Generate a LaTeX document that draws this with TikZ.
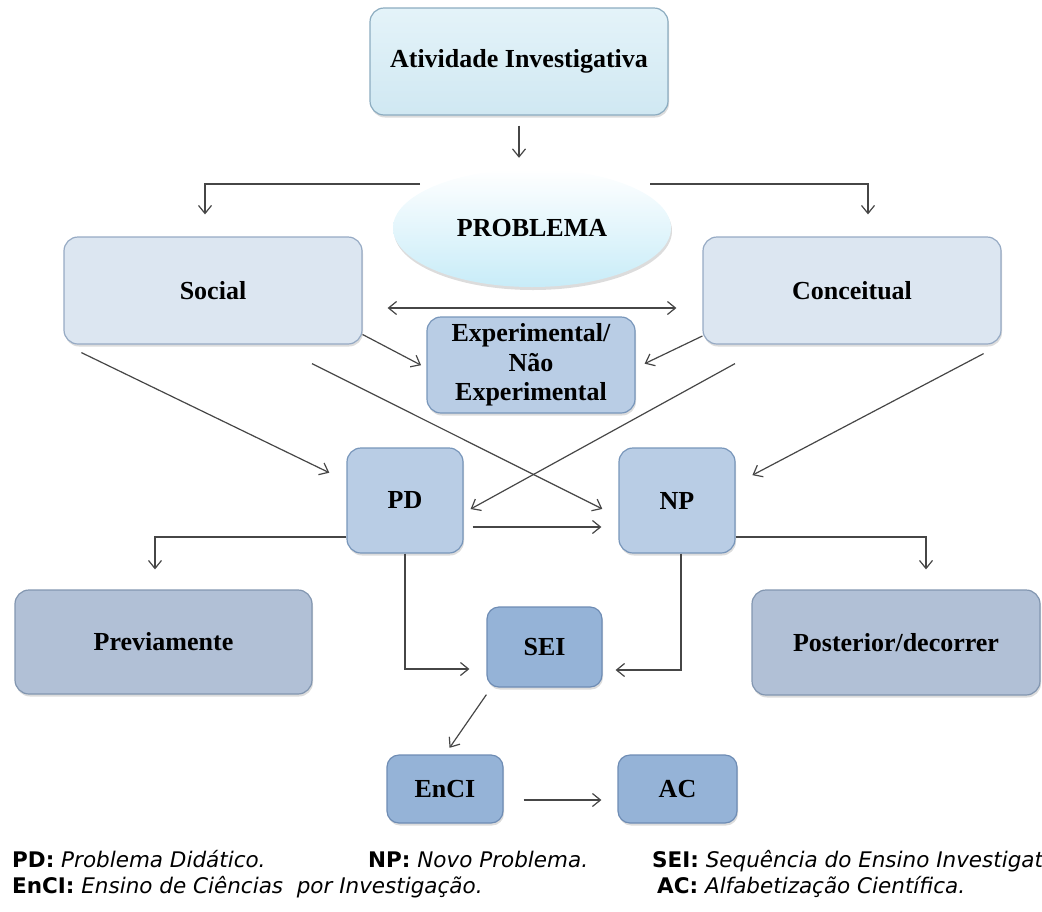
\documentclass[tikz,border=0pt]{standalone}
\usepackage{fontspec}
\setmainfont{Liberation Serif}
\newfontfamily\legendfont{DejaVu Sans}[BoldFont={DejaVu Sans Bold},ItalicFont={DejaVu Sans Oblique},BoldItalicFont={DejaVu Sans Bold Oblique}]
\usetikzlibrary{arrows.meta,calc,shapes.geometric,shadows}

\definecolor{atvtop}{RGB}{228,243,249}
\definecolor{atvbot}{RGB}{208,232,242}
\definecolor{atvline}{RGB}{140,172,192}
\definecolor{probbot}{RGB}{200,236,248}
\definecolor{socfill}{RGB}{220,230,241}
\definecolor{socline}{RGB}{150,170,196}
\definecolor{midfill}{RGB}{185,205,229}
\definecolor{midline}{RGB}{120,150,186}
\definecolor{darkfill}{RGB}{149,179,215}
\definecolor{darkline}{RGB}{110,140,180}
\definecolor{grayfill}{RGB}{177,192,214}
\definecolor{grayline}{RGB}{130,150,176}
\definecolor{conn}{RGB}{70,70,70}

\begin{document}
\begin{tikzpicture}[x=1pt,y=-1pt,
  boxbase/.style={rounded corners=14pt, line width=1.2pt, inner sep=0pt, align=center,
    font=\fontsize{26}{29.5}\selectfont\bfseries,
    drop shadow={shadow xshift=1pt, shadow yshift=-2.5pt, opacity=0.3, fill=black!45}},
  atvbox/.style={boxbase, draw=atvline, top color=atvtop, bottom color=atvbot},
  socbox/.style={boxbase, draw=socline, fill=socfill},
  midbox/.style={boxbase, draw=midline, fill=midfill},
  darkbox/.style={boxbase, draw=darkline, fill=darkfill},
  graybox/.style={boxbase, draw=grayline, fill=grayfill},
  arr/.style={draw=conn, line width=1.2pt, -{Straight Barb[length=8pt,width=13pt]}},
  arrboth/.style={draw=conn, line width=1.2pt, {Straight Barb[length=8pt,width=13pt]}-{Straight Barb[length=8pt,width=13pt]}},
  legend/.style={anchor=base west, inner sep=0pt, font=\legendfont\fontsize{21.5}{25}\selectfont}
]
\useasboundingbox (0,0) rectangle (1042,911);
\clip (0,0) rectangle (1042,911);

% boxes
\node[atvbox, minimum width=298pt, minimum height=107pt] (atv) at (519,61.5) {Atividade Investigativa};
\node[ellipse, draw=none, top color=white, bottom color=probbot, inner sep=0pt,
      minimum width=278pt, minimum height=118pt,
      font=\fontsize{26}{29.5}\selectfont\bfseries,
      drop shadow={shadow xshift=1pt, shadow yshift=-3pt, opacity=0.3, fill=black!45}]
      (prob) at (532,228) {PROBLEMA};
\node[socbox, minimum width=298pt, minimum height=107pt] (social) at (213,290.5) {Social};
\node[socbox, minimum width=298pt, minimum height=107pt] (conc) at (852,290.5) {Conceitual};
\node[midbox, minimum width=208pt, minimum height=96pt] (exp) at (531,365) {Experimental/\\Não\\Experimental};
\node[midbox, minimum width=116pt, minimum height=105pt] (pd) at (405,500.5) {PD};
\node[midbox, minimum width=116pt, minimum height=105pt] (np) at (677,500.5) {NP};
\node[graybox, minimum width=297pt, minimum height=104pt] (prev) at (163.5,642) {Previamente};
\node[graybox, minimum width=288pt, minimum height=105pt] (post) at (896,642.5) {Posterior/decorrer};
\node[darkbox, minimum width=115pt, minimum height=80pt, rounded corners=12pt] (sei) at (544.5,647) {SEI};
\node[darkbox, minimum width=116pt, minimum height=68pt, rounded corners=12pt] (enci) at (445,789) {EnCI};
\node[darkbox, minimum width=119pt, minimum height=68pt, rounded corners=12pt] (ac) at (677.5,789) {AC};

% free ends of the branch lines beside the ellipse
\coordinate (brl) at (420,184);
\coordinate (brr) at (650,184);

% connectors
\draw[arr, shorten <=10pt, shorten >=11pt] (atv.south) -- (atv.south |- prob.north);
\draw[arr, shorten >=22pt] (brl) -| ($(social.north)+(-8,0)$);
\draw[arr, shorten >=22pt] (brr) -| ($(conc.north)+(16,0)$);
\draw[arrboth, shorten <=25pt, shorten >=26pt] ($(social.east)+(0,17.5)$) -- ($(conc.west)+(0,17.5)$);
\draw[arr, shorten >=6pt] ($(social.east)+(0,44)$) -- ($(exp.west)+(0,3)$);
\draw[arr, shorten >=10pt] ($(conc.west)+(0,45.5)$) -- ($(exp.east)+(0,3)$);
\draw[arr, shorten >=19pt] ($(social.south west)+(18,8)$) -- ($(pd.west)+(0,-19.5)$);
\draw[arr, shorten >=18pt] ($(social.south)+(99,19)$) -- ($(np.west)+(0,16.5)$);
\draw[arr, shorten >=8pt] ($(conc.south)+(-117,19)$) -- ($(pd.east)+(0,12.4)$);
\draw[arr, shorten >=19pt] ($(conc.south east)+(-18,9)$) -- ($(np.east)+(0,-16.5)$);
\draw[arr, shorten <=9pt, shorten >=17pt] ($(pd.east)+(0,26.5)$) -- ($(np.west)+(0,26.5)$);
\draw[arr, shorten >=20pt] ($(pd.west)+(0,36.5)$) -| ($(prev.north)+(-8.5,0)$);
\draw[arr, shorten >=17pt] (pd.south) |- ($(sei.west)+(0,22)$);
\draw[arr, shorten >=13pt] ($(np.south)+(4,0)$) |- ($(sei.east)+(0,23)$);
\draw[arr, shorten >=20pt] ($(np.east)+(0,36.5)$) -| ($(post.north)+(30,0)$);
\draw[arr, shorten >=8pt] ($(sei.south west)+(0,7)$) -- (enci.north);
\draw[arr, shorten <=20pt, shorten >=16pt] ($(enci.east)+(0,11)$) -- ($(ac.west)+(0,11)$);

% legend
\node[legend] (lpd) at (12,867) {\textbf{PD:} \textit{Problema Didático.}};
\node[legend] (lnp) at (368,867) {\textbf{NP:} \textit{Novo Problema.}};
\node[legend] (lsei) at (652,867) {\textbf{SEI:} \textit{Sequência do Ensino Investigativo.}};
\node[legend] (lenci) at (12,893) {\textbf{EnCI:} \textit{Ensino de Ciências\ \ por Investigação.}};
\node[legend] (lac) at (657,893) {\textbf{AC:} \textit{Alfabetização Científica.}};
\end{tikzpicture}
\end{document}
